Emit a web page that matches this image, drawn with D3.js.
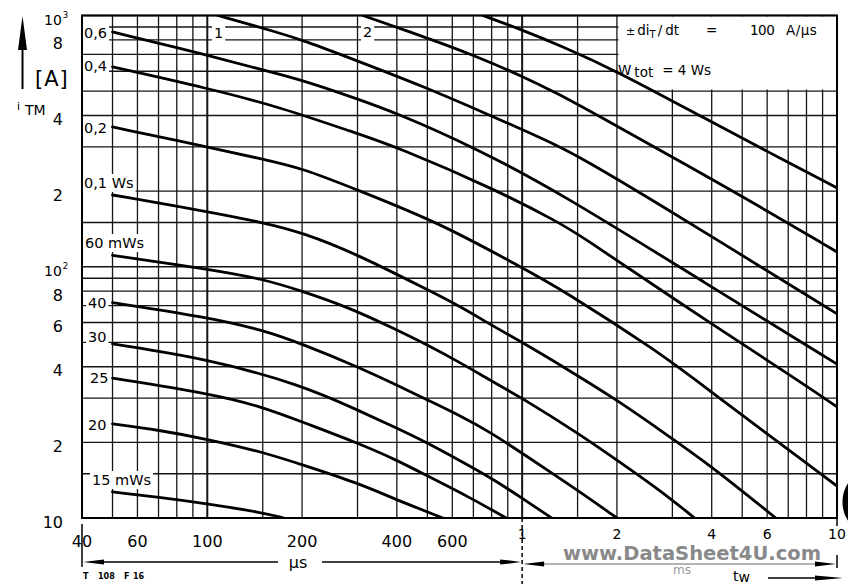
<!DOCTYPE html>
<html>
<head>
<meta charset="utf-8">
<script src="https://cdn.jsdelivr.net/npm/d3@7"></script>
<style>
  body { margin: 0; background: #fff; }
  svg { display: block; }
  text { font-family: "DejaVu Sans", sans-serif; fill: #000; }
</style>
</head>
<body>
<div id="chart"></div>
<script>
// pulse width t_w in µs, peak current i_TM in A, one array per W_tot curve
const w15   = [[50,12.7],[70,12.1],[100,11.4],[150,10.5],[175,10]];
const w20   = [[50,23.7],[70,22.4],[100,20.6],[150,18.3],[200,16.3],[300,13.8],[400,11.8],[560,10]];
const w25   = [[50,36],[100,31.4],[150,27.7],[200,24.1],[300,19.9],[400,17],[500,14.7],[680,12.1],[890,10]];
const w30   = [[50,49.3],[100,43],[200,33.8],[300,26.9],[400,22.8],[500,19.9],[630,17],[800,14.4],[1000,12],[1240,10]];
const w40   = [[50,72],[100,63],[150,56],[200,49.3],[300,40],[400,33.8],[500,29.5],[630,25.7],[800,21.8],[1000,18.1],[1500,12.9],[2000,10]];
const w60   = [[50,111],[100,98],[150,89.5],[200,80],[285,68.5],[400,56],[500,48.8],[630,41.8],[790,35.4],[1000,30],[1500,21.8],[2000,17],[2740,12.9],[3530,10]];
const w100  = [[50,193],[100,166],[150,150],[200,137],[300,112],[500,81],[630,70],[800,58.5],[1000,50],[1350,40],[2000,29.5],[2740,22.4],[3940,16.3],[6390,10]];
const w200  = [[50,360],[100,300],[150,268],[200,247],[300,202],[550,149],[1000,99],[1320,82],[2740,45.4],[3660,34.4],[10000,13.4]];
const w400  = [[50,624],[100,514],[170,432],[295,341],[400,300],[830,202],[1320,149],[1520,134],[3000,75],[7500,35.4],[10000,27.7]];
const w600  = [[50,860],[100,696],[150,607],[200,554],[295,469],[400,409],[700,300],[1320,197],[3940,84],[10000,41]];
const w1000 = [[108,1000],[170,852],[200,799],[295,665],[500,514],[700,428],[1000,352],[1320,300],[1520,273],[2310,202],[10000,64.9]];
const w2000 = [[312,1000],[500,814],[700,696],[1000,574],[1320,483],[1520,440],[4800,197],[10000,114.5]];
const w4000 = [[750,1000],[1000,876],[1320,760],[1970,607],[3940,380],[6000,288],[10000,206]];
const curves = [w15, w20, w25, w30, w40, w60, w100, w200, w400, w600, w1000, w2000, w4000];

const xGrid = [40,50,60,70,80,90,100,150,200,300,400,500,600,700,800,900,1000,1500,2000,3000,4000,5000,6000,7000,8000,9000,10000];
const yGrid = [10,15,20,30,40,50,60,70,80,90,100,150,200,300,400,500,600,700,800,900,1000];

const xTicksUs = [40,60,100,200,400,600];
const xTicksUsText = ['40','60','100','200','400','600'];
const xTicksMs = [1000,2000,4000,6000,10000];
const xTicksMsText = ['1','2','4','6','10'];
const yTicks = [800,400,200,80,60,40,20,10];
const yTicksText = ['8','4','2','8','6','4','2','10'];
const yPowTicks = [1000,100];
const yPowText = [['10','3'],['10','2']];

const curveNames = ['0,6','0,4','0,2','0,1 Ws','60 mWs','40','30','25','20','15 mWs','1','2'];
const curveNamePos = [[84,33],[84,66],[84,128],[84,183],[85,243],[88,303],[88,337],[90,378],[88,425],[92,480],[214,33],[363,32]];

const W = 848, H = 584;
const x = d3.scaleLog().domain([40, 10000]).range([82, 837]);
const y = d3.scaleLog().domain([10, 1000]).range([518, 15.5]);
const [x0, x1] = x.range(), [y0, y1] = y.range();

const svg = d3.select('#chart').append('svg').attr('width', W).attr('height', H);
svg.append('rect').attr('width', W).attr('height', H).attr('fill', '#fff');

svg.append('defs').append('clipPath').attr('id', 'plotclip').append('rect')
  .attr('x', x0).attr('y', y1).attr('width', x1 - x0).attr('height', y0 - y1);

// grid
const grid = svg.append('g').attr('stroke', '#151515');
grid.selectAll('line.v').data(xGrid).join('line').attr('class', 'v')
  .attr('x1', d => x(d)).attr('x2', d => x(d)).attr('y1', y0).attr('y2', y1)
  .attr('stroke-width', d => (d === 100 || d === 1000) ? 2 : 1.3);
grid.selectAll('line.h').data(yGrid).join('line').attr('class', 'h')
  .attr('x1', x0).attr('x2', x1).attr('y1', d => y(d)).attr('y2', d => y(d))
  .attr('stroke-width', 1.3);

// blank area behind the conditions text
const boxes = svg.append('g').attr('fill', '#fff');
boxes.append('rect').attr('x', x(2000) + 1.5).attr('y', y1 + 1).attr('width', x1 - x(2000) - 2.5).attr('height', 73);

// curves
svg.append('g').attr('clip-path', 'url(#plotclip)')
  .selectAll('path').data(curves).join('path')
  .attr('d', d3.line().x(d => x(d[0])).y(d => y(d[1])).curve(d3.curveBasis))
  .attr('fill', 'none').attr('stroke', '#000').attr('stroke-width', 2.8).attr('stroke-linecap', 'round');

// frame
svg.append('rect').attr('x', x0).attr('y', y1).attr('width', x1 - x0).attr('height', y0 - y1)
  .attr('fill', 'none').attr('stroke', '#000').attr('stroke-width', 2);

// curve labels with white backing
const labels = svg.append('g').attr('font-size', 14.5);
curveNames.forEach((t, i) => {
  const el = labels.append('text').attr('x', curveNamePos[i][0]).attr('y', curveNamePos[i][1])
    .attr('dominant-baseline', 'central').text(t);
  const b = el.node().getBBox();
  boxes.append('rect').attr('x', b.x - 2).attr('y', b.y - 1).attr('width', b.width + 4).attr('height', b.height + 2);
});

// conditions
const cond = svg.append('g').attr('font-size', 13.5);
const c1 = cond.append('text').attr('x', 626).attr('y', 35);
c1.append('tspan').attr('font-size', 11).text('±');
c1.append('tspan').attr('dx', 2).text('di');
c1.append('tspan').attr('font-size', 10).attr('dy', 3).text('T');
c1.append('tspan').attr('dy', -3).attr('dx', 2).text('/');
c1.append('tspan').attr('dx', 3).text('dt');
cond.append('text').attr('x', 706).attr('y', 35).text('=');
cond.append('text').attr('x', 750).attr('y', 35).attr('letter-spacing', -0.5).text('100');
cond.append('text').attr('x', 786).attr('y', 35).attr('letter-spacing', 0.5).text('A/µs');
const c2 = cond.append('text').attr('x', 618).attr('y', 75);
c2.append('tspan').text('W');
c2.append('tspan').attr('dx', 3).attr('dy', 2).text('tot');
c2.append('tspan').attr('dx', 9).attr('dy', -2).text('= 4 Ws');

// y axis labels
const yl = svg.append('g').attr('font-size', 16).attr('text-anchor', 'end');
yl.selectAll('text').data(yTicks).join('text')
  .attr('x', 63).attr('y', d => y(d) + 4).attr('dominant-baseline', 'central')
  .text((d, i) => yTicksText[i]);
yPowTicks.forEach((v, i) => {
  const t = svg.append('text').attr('x', 44).attr('y', y(v) + 9).attr('font-size', 14);
  t.append('tspan').text(yPowText[i][0]);
  t.append('tspan').attr('font-size', 8.5).attr('dy', -7).attr('dx', 1).text(yPowText[i][1]);
});
svg.append('line').attr('x1', 22.5).attr('x2', 22.5).attr('y1', 48).attr('y2', 89)
  .attr('stroke', '#000').attr('stroke-width', 2);
svg.append('path').attr('d', 'M22.5,16 L27,50 L18,50 Z').attr('fill', '#000');
svg.append('text').attr('x', 35).attr('y', 86).attr('font-size', 21).attr('letter-spacing', 1).text('[A]');
svg.append('text').attr('x', 17).attr('y', 110).attr('font-size', 11).text('i');
svg.append('text').attr('x', 25).attr('y', 115).attr('font-size', 14).text('TM');

// x axis labels
const xl = svg.append('g').attr('text-anchor', 'middle');
xl.selectAll('text.us').data(xTicksUs).join('text').attr('class', 'us')
  .attr('x', d => x(d)).attr('y', 541).attr('font-size', 16).attr('dominant-baseline', 'central')
  .text((d, i) => xTicksUsText[i]);
xl.selectAll('text.ms').data(xTicksMs).join('text').attr('class', 'ms')
  .attr('x', d => x(d)).attr('y', 534).attr('font-size', 14).attr('dominant-baseline', 'central')
  .text((d, i) => xTicksMsText[i]);

// unit dimension lines
const dim = svg.append('g').attr('stroke', '#000').attr('stroke-width', 1.5);
dim.append('line').attr('x1', x0).attr('x2', x0).attr('y1', 524).attr('y2', 567);
dim.append('line').attr('x1', x0 + 18).attr('x2', 278).attr('y1', 562).attr('y2', 562);
dim.append('line').attr('x1', 322).attr('x2', x(1000) - 20).attr('y1', 562).attr('y2', 562);
dim.append('line').attr('x1', x(1000)).attr('x2', x(1000)).attr('y1', y0).attr('y2', 584)
  .attr('stroke-dasharray', '4,3');
dim.append('line').attr('x1', x(1000) + 20).attr('x2', x1 - 18).attr('y1', 564).attr('y2', 564).attr('stroke', '#9a9a9a');
dim.append('line').attr('x1', x1).attr('x2', x1).attr('y1', y0).attr('y2', 526);
dim.append('line').attr('x1', x1).attr('x2', x1).attr('y1', 555).attr('y2', 568);
dim.append('line').attr('x1', 768).attr('x2', 822).attr('y1', 578).attr('y2', 578);
const heads = svg.append('g').attr('fill', '#000');
const head = (tip, base, yy) => `M${tip},${yy} L${base},${yy - 2.6} L${base},${yy + 2.6} Z`;
heads.append('path').attr('d', head(x0 + 1, x0 + 22, 562));
heads.append('path').attr('d', head(x(1000) - 1, x(1000) - 22, 562));
heads.append('path').attr('d', head(x(1000) + 1, x(1000) + 22, 564));
heads.append('path').attr('d', head(x1 - 1, x1 - 22, 564));
heads.append('path').attr('d', head(843, 815, 578));

svg.append('text').attr('x', 298).attr('y', 562).attr('font-size', 16).attr('text-anchor', 'middle')
  .attr('dominant-baseline', 'central').text('µs');
svg.append('text').attr('x', 682).attr('y', 574).attr('font-size', 12).attr('text-anchor', 'middle')
  .style('fill', '#9a9a9a').text('ms');
const tw = svg.append('text').attr('x', 733).attr('y', 581).attr('font-size', 14);
tw.append('tspan').text('t');
tw.append('tspan').attr('dy', 1).text('w');

const code = svg.append('text').attr('x', 83).attr('y', 579).attr('font-size', 8).attr('font-weight', 'bold');
code.append('tspan').text('T');
code.append('tspan').attr('x', 98).text('108');
code.append('tspan').attr('x', 124).text('F');
code.append('tspan').attr('x', 133).text('16');

// scan watermark and edge artefact
svg.append('text').attr('x', 563).attr('y', 560).attr('font-size', 19).attr('font-weight', 'bold')
  .attr('textLength', 258).attr('lengthAdjust', 'spacingAndGlyphs')
  .style('fill', '#7d7d7d').attr('opacity', 0.9).text('www.DataSheet4U.com');
svg.append('ellipse').attr('cx', 863).attr('cy', 502).attr('rx', 17).attr('ry', 24)
  .attr('fill', 'none').attr('stroke', '#000').attr('stroke-width', 7);
</script>
</body>
</html>
